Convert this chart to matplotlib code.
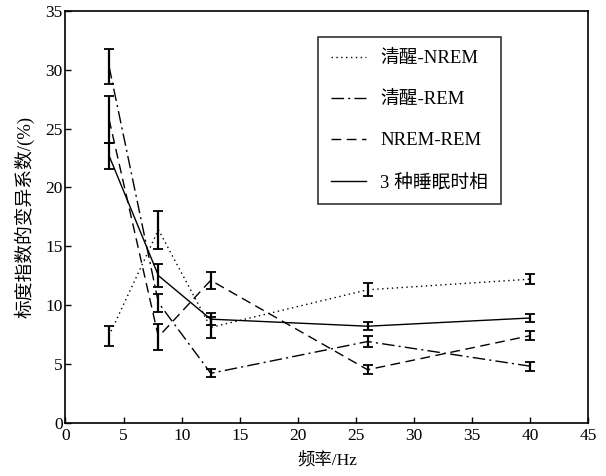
import matplotlib
matplotlib.use("Agg")
import matplotlib.pyplot as plt

plt.rcParams['font.family'] = ['Liberation Serif', 'Noto Sans CJK SC']
plt.rcParams['mathtext.fontset'] = 'stix'

# Frequency points (Hz)
freqs = [3.75, 8, 12.5, 26, 40]

# Coefficient of variation (%) and error bars for each comparison
wake_nrem = [7.4, 16.4, 8.1, 11.3, 12.2]
wake_nrem_err = [0.85, 1.6, 0.9, 0.55, 0.4]

wake_rem = [30.3, 10.2, 4.2, 6.9, 4.8]
wake_rem_err = [1.5, 0.75, 0.35, 0.5, 0.4]

nrem_rem = [25.8, 7.3, 12.1, 4.5, 7.4]
nrem_rem_err = [2.0, 1.1, 0.75, 0.4, 0.4]

all_stages = [22.7, 12.5, 8.8, 8.2, 8.9]
all_stages_err = [1.1, 1.0, 0.5, 0.35, 0.35]

labels = ["清醒-NREM", "清醒-REM", "NREM-REM", "3 种睡眠时相"]

fig = plt.figure(figsize=(6.06, 4.76), dpi=100)
ax = fig.add_axes([0.108, 0.112, 0.863, 0.865])

common = dict(color="black", linewidth=1.0, elinewidth=1.6, capsize=3.5, capthick=1.3)

ax.errorbar(freqs, wake_nrem, yerr=wake_nrem_err, linestyle=(0, (1, 2.5)), label=labels[0], **common)
ax.errorbar(freqs, wake_rem, yerr=wake_rem_err, linestyle=(0, (9, 3, 1.5, 3)), label=labels[1], **common)
ax.errorbar(freqs, nrem_rem, yerr=nrem_rem_err, linestyle=(0, (7, 4)), label=labels[2], **common)
ax.errorbar(freqs, all_stages, yerr=all_stages_err, linestyle="-", label=labels[3], **common)

ax.set_xlim(0, 45)
ax.set_ylim(0, 35)
ax.set_xticks(range(0, 46, 5))
ax.set_yticks(range(0, 36, 5))
ax.tick_params(direction="in", length=4, width=1, labelsize=12.5, pad=2)
ax.tick_params(axis="x", pad=4)
for s in ax.spines.values():
    s.set_linewidth(1.2)

ax.set_xlabel("频率/Hz", fontsize=12.5, labelpad=6)
ax.set_ylabel("标度指数的变异系数/(%)", fontsize=13.5, labelpad=8)

handles, labs = ax.get_legend_handles_labels()
handles = [h[0] for h in handles]
leg = ax.legend(handles, labs, loc="upper left", bbox_to_anchor=(0.482, 0.937),
                fontsize=13.5, frameon=True, fancybox=False, edgecolor="black",
                labelspacing=1.28, handlelength=1.9, handletextpad=0.75,
                borderpad=0.7, borderaxespad=0)
leg.get_frame().set_linewidth(1.2)

fig.savefig("out.png", dpi=100)
